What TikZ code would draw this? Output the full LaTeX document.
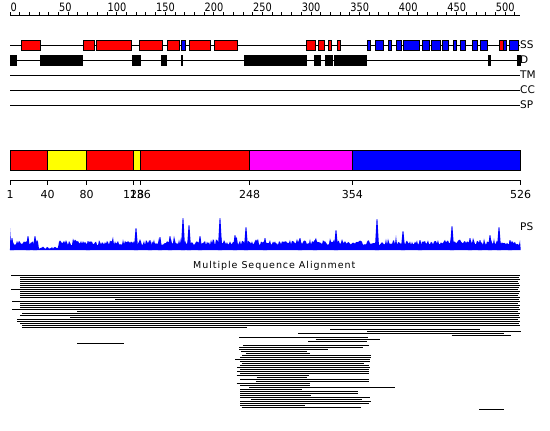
\documentclass[tikz,border=0pt]{standalone}
\usepackage{fontspec}
\setmainfont{DejaVu Sans}
\newfontfamily\rulerfont[FakeStretch=0.85]{DejaVu Sans}
\newfontfamily\titlefont[LetterSpace=10]{DejaVu Sans}
\definecolor{ssred}{RGB}{255,0,0}
\definecolor{ssblue}{RGB}{0,0,255}
\definecolor{dyellow}{RGB}{255,255,0}
\definecolor{dmagenta}{RGB}{255,0,255}
\tikzset{
  trk/.style={line width=1pt},
  helix/.style={fill=ssred,draw=black,line width=0.8pt},
  strand/.style={fill=ssblue,draw=black,line width=0.8pt},
  disbox/.style={fill=black,draw=black,line width=0.8pt},
  dombox/.style={draw=black,line width=1pt},
  tlabel/.style={anchor=west,inner sep=0pt,font=\fontsize{10.5}{10.5}\selectfont},
  rlabel/.style={anchor=south west,inner sep=0pt,font=\rulerfont\fontsize{11.5}{11.5}\selectfont},
  alabel/.style={anchor=north,inner sep=0pt,font=\fontsize{11}{11}\selectfont},
  msa/.style={line width=1pt}
}
\begin{document}
\begin{tikzpicture}[x=1pt,y=-1pt]
\useasboundingbox (0,0) rectangle (550,431);
% top ruler
\draw[trk] (10,15) -- (520,15);
\foreach \v in {0,10,...,520} \draw[trk] ({10+0.971*\v},15) -- ++(0,-3.5);
\foreach \v in {0,50,...,500} \node[rlabel] (r\v) at ({10.3+0.971*\v},11.8) {\v};
% tracks
\foreach \yy in {45,60,75,90,105} \draw[trk] (10,\yy) -- (520,\yy);
\node[tlabel] (ss) at (520,45) {SS};
\node[tlabel] (dd) at (520,60) {D};
\node[tlabel] (tm) at (520,75) {TM};
\node[tlabel] (cc) at (520,90) {CC};
\node[tlabel] (sp) at (520,105) {SP};
% SS helices
\foreach \a/\b in {21/40.7,83/94.7,96.3/131.7,139.3/162.7,167.3/179.7,189.3/210.7,214.3/237.7,306.3/315.7,318.3/324.7,328/331.3,337.3/340.3,499.3/503.3}
  \draw[helix] (\a,40) rectangle (\b,50);
% SS strands
\foreach \a/\b in {181.3/185.3,367.3/370.7,375.7/383.3,388.3/391.3,396.3/401.7,403.3/419.3,422.3/429.3,431.3/440,442.3/448.3,453.3/456.7,460/465.7,472.3/477,480.3/487.7,503.7/506.7,509.3/518.7}
  \draw[strand] (\a,40) rectangle (\b,50);
% disorder
\foreach \a/\b in {10/16.7,40/82.7,132.3/140,161/166.7,181/182.7,244/306.7,314/320.7,325/328.3,329.3/332.3,334/366.7,488.3/490.7,517/520.7}
  \draw[disbox] (\a,55) rectangle (\b,65.5);
% domain bar
\draw[dombox,fill=ssred] (10,150) rectangle (47.7,170.5);
\draw[dombox,fill=dyellow] (47.7,150) rectangle (86.7,170.5);
\draw[dombox,fill=ssred] (86.7,150) rectangle (133.7,170.5);
\draw[dombox,fill=dyellow] (133.7,150) rectangle (140.3,170.5);
\draw[dombox,fill=ssred] (140.3,150) rectangle (249.7,170.5);
\draw[dombox,fill=dmagenta] (249.7,150) rectangle (352.3,170.5);
\draw[dombox,fill=ssblue] (352.3,150) rectangle (520.7,170.5);
% domain axis
\draw[trk] (10,180.5) -- (520.7,180.5);
\foreach \p/\v in {10/1,47.7/40,86.7/80,133.7/128,140.3/136,249.7/248,352.3/354,520.7/526}{
  \draw[trk] (\p,180.5) -- (\p,185);
  \node[alabel] (a\v) at (\p,190.5) {\v};
}
% PS profile
\pgfmathsetseed{11}
\fill[ssblue] (10,250) -- (10,228)
  \foreach \i in {11,...,38} { -- (\i,{250-5-4*rnd-7*rnd*rnd*rnd}) }
  \foreach \i in {39,...,58} { -- (\i,{250-1-2.5*rnd}) }
  \foreach \i in {59,...,520} { -- (\i,{250-4.5-4.5*rnd-8*rnd*rnd*rnd}) }
  -- (520.7,250) -- cycle;
\foreach \sx/\sh in {12/12,28/14,35/14,88/9,136/22,150/10,160/13,170/14,183/32,189/25,200/14,220/32,235/15,246/23,265/12,300/12,315/10,336/20,377/31,403/19,420/10,452/24,470/12,480/10,490/15,499/23,510/10}
  \fill[ssblue] ({\sx-2.2},250) -- ({\sx-0.4},{250-\sh}) -- ({\sx+0.4},{250-\sh}) -- ({\sx+2.2},250) -- cycle;
\node[tlabel] (ps) at (520,226.5) {PS};
% MSA title
\node[anchor=base,inner sep=0pt,font=\titlefont\fontsize{9.5}{9.5}\selectfont] (title) at (274.2,268.4) {Multiple Sequence Alignment};
% MSA main block
\foreach \yy/\a/\b in {275/11/520,277/20/519,279/20/520,281/20/518,283/20/519,285/20/520,287/20/519,289/11/518,291/20/520,293/20/519,295/20/518,297/20/520,299/115/519,301/12/520,303/20/518,305/20/520,307/20/519,309/12/520,311/77/518,313/22/520,315/20/519,317/70/520,319/17/518,321/17/520,323/20/519,325/22/520,327/22/247}
  \draw[msa] (\a,\yy) -- (\b,\yy);
% MSA lower lines
\foreach \yy/\a/\b in {329.3/330/480,331.3/367.3/520.7,333.3/298.3/503.7,335.3/451.7/510.7,337.3/239/367.7,339.3/315.7/379.5,341.3/308.3/366.7,343.3/77.3/123.7,345.3/243/369,347.3/239.3/363.3,349.3/239/328.3,351.3/241/307.3,353.3/245.7/309.7,355.3/242.3/370.7,357.3/240/370.7,359.3/235/369.7,361.3/240/369.7,363.3/241.7/364.3,365.3/240/369,367.3/237/370,369.3/240/369,371.3/237/369,373.3/240/368.7,375.3/236.7/309.3,377.3/256.7/306.7,379.3/240/368.7,381.3/255.7/369,383.3/236.7/309.7,385.3/240/309.7,387.3/249.3/395.3,389.3/240/301.7,391.3/240/357.7,393.3/240/357.7,395.3/240/311,397.3/240/369.7,399.3/250.7/362,401.3/240/370.7,403.3/240/369,405.3/240/304.7,407.3/241.7/361,409.3/479.3/503.7}
  \draw[msa] (\a,\yy) -- (\b,\yy);
\end{tikzpicture}
\end{document}
